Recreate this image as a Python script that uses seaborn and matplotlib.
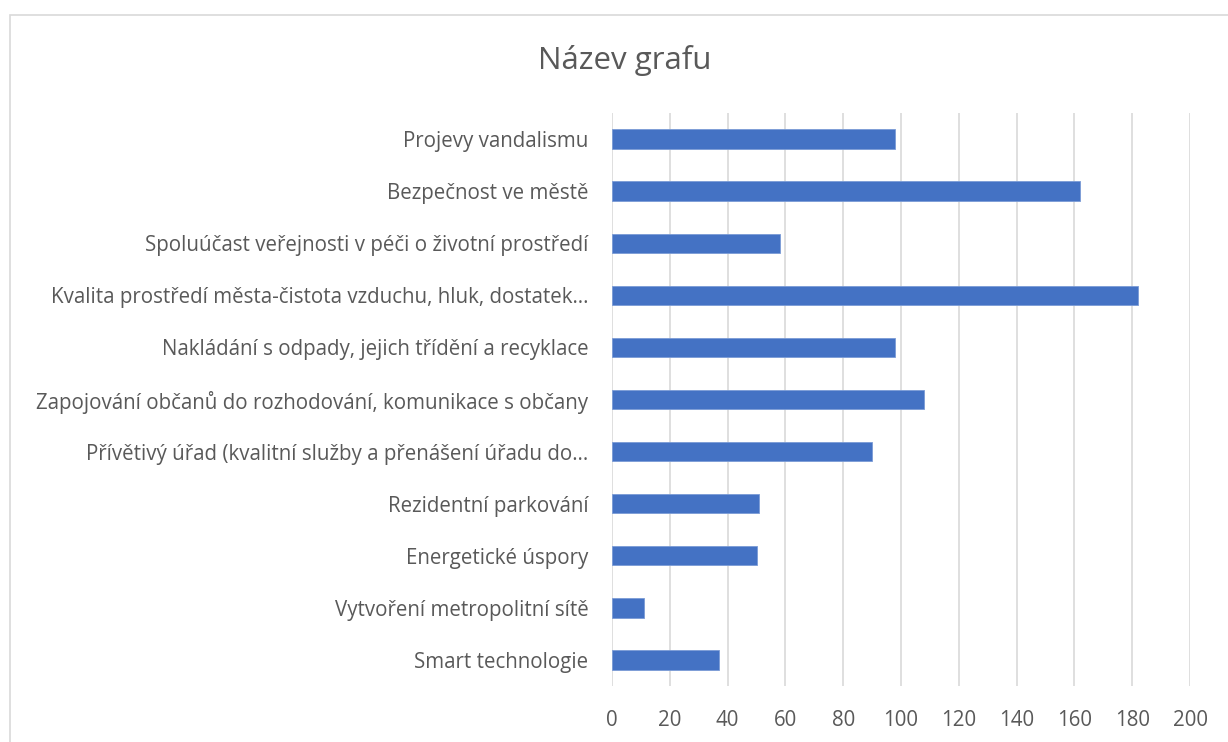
import matplotlib
matplotlib.use("Agg")
import matplotlib.pyplot as plt
import seaborn as sns
import pandas as pd
from matplotlib.patches import Rectangle

categories = [
    "Projevy vandalismu",
    "Bezpečnost ve městě",
    "Spoluúčast veřejnosti v péči o životní prostředí",
    "Kvalita prostředí města-čistota vzduchu, hluk, dostatek…",
    "Nakládání s odpady, jejich třídění a recyklace",
    "Zapojování občanů do rozhodování, komunikace s občany",
    "Přívětivý úřad (kvalitní služby a přenášení úřadu do…",
    "Rezidentní parkování",
    "Energetické úspory",
    "Vytvoření metropolitní sítě",
    "Smart technologie",
]
values = [98, 162, 58, 182, 98, 108, 90, 51, 50, 11, 37]
x_ticks = [0, 20, 40, 60, 80, 100, 120, 140, 160, 180, 200]
title = "Název grafu"

df = pd.DataFrame({"kategorie": categories, "pocet": values})

sns.set_theme(style="white")
plt.rcParams["font.family"] = ["Open Sans", "DejaVu Sans"]

W, H = 1228, 742
fig = plt.figure(figsize=(W / 100, H / 100), dpi=100)
fig.patch.set_facecolor("white")

# chart frame
fig.patches.append(Rectangle((10 / W, -0.1), 1.2, 1 - 15 / H + 0.1,
                             transform=fig.transFigure, fill=False,
                             edgecolor="#D9D9D9", linewidth=1.2))

ax = fig.add_axes([612 / W, 1 - 686 / H, (1190 - 612) / W, (686 - 113) / H])
sns.barplot(data=df, y="kategorie", x="pocet", orient="h", color="#4472C4",
            width=0.37, saturation=1, edgecolor="#7A9BD6", linewidth=0.6, ax=ax)

ax.set_xlim(0, 200)
ax.set_xticks(x_ticks)
ax.set_xticklabels([str(t) for t in x_ticks])
ax.set_ylim(len(categories) - 0.5, -0.5)
ax.set_xlabel("")
ax.set_ylabel("")
ax.xaxis.grid(True, color="#D9D9D9", linewidth=1.2)
ax.set_axisbelow(True)
for s in ax.spines.values():
    s.set_visible(False)
ax.tick_params(axis="x", length=0, pad=17, labelsize=14.8, labelcolor="#595959")
ax.tick_params(axis="y", length=0, pad=17, labelsize=14.8, labelcolor="#595959")

fig.text(625 / W, 1 - 60 / H, title, ha="center", va="center",
         fontsize=22.5, color="#595959")

fig.savefig("out.png", dpi=100)
